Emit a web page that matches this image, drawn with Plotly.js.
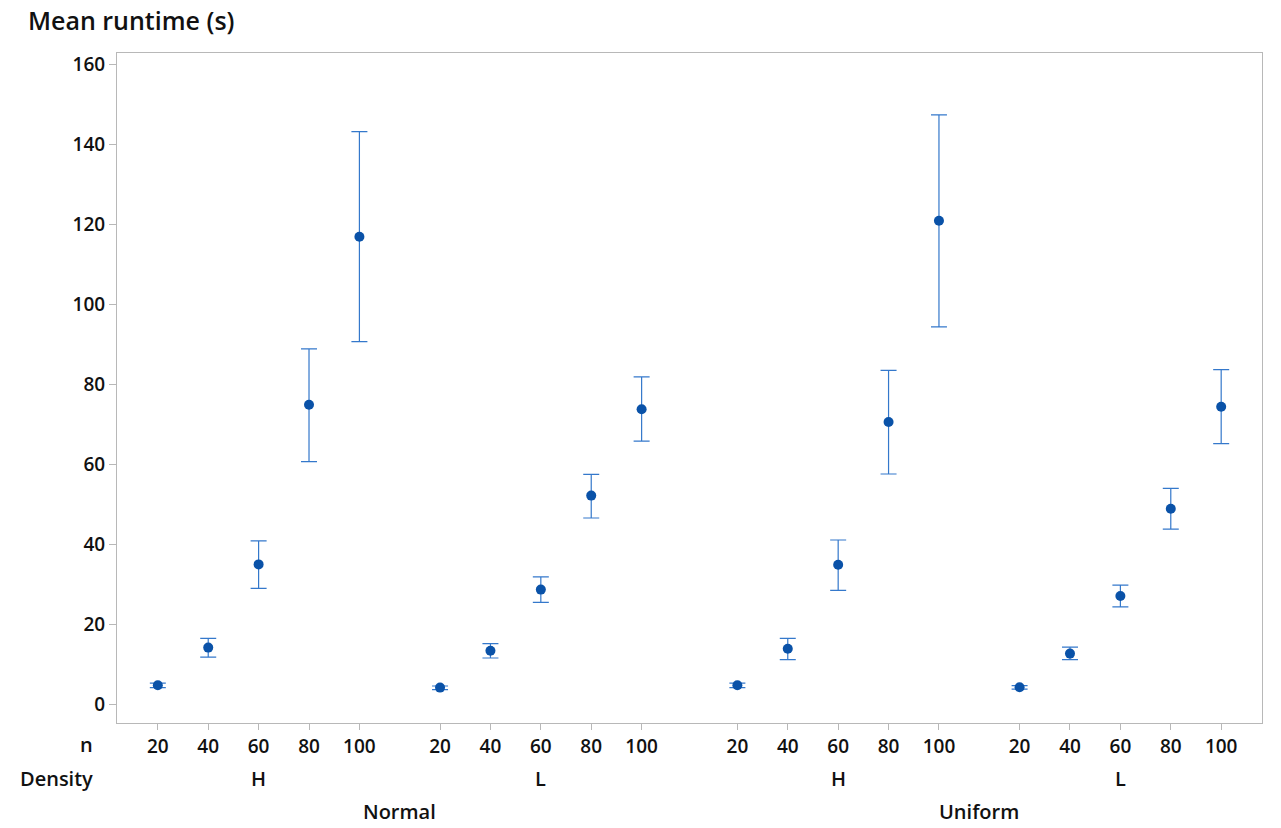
<!DOCTYPE html>
<html>
<head>
<meta charset="utf-8">
<script src="https://cdn.plot.ly/plotly-3.0.1.min.js"></script>
<style>
  html, body { margin: 0; padding: 0; background: #fff; }
  #chart { width: 1281px; height: 828px; }
</style>
</head>
<body>
<div id="chart"></div>
<script>
// Interval plot of mean runtime by distribution, density and n
const distributions = ['Normal', 'Uniform'];
const densities = ['H', 'L'];
const nValues = [20, 40, 60, 80, 100];

// Means and 95% CI bounds, ordered Normal-H, Normal-L, Uniform-H, Uniform-L (n = 20..100 each)
const meanRuntime = [
  4.7, 14.1, 34.9, 74.8, 116.8,
  4.1, 13.3, 28.6, 52.1, 73.7,
  4.7, 13.8, 34.8, 70.5, 120.8,
  4.2, 12.6, 27.0, 48.8, 74.3
];
const ciLower = [
  4.1, 11.7, 28.9, 60.6, 90.6,
  3.6, 11.5, 25.4, 46.5, 65.7,
  4.1, 11.1, 28.4, 57.5, 94.3,
  3.7, 11.1, 24.3, 43.7, 65.1
];
const ciUpper = [
  5.2, 16.4, 40.8, 88.8, 143.1,
  4.5, 15.1, 31.8, 57.4, 81.8,
  5.2, 16.4, 41.0, 83.4, 147.3,
  4.6, 14.2, 29.7, 53.9, 83.6
];

// Horizontal layout: unit step between n levels, wider gaps between groups
const DENSITY_GAP = 0.6;
const DIST_GAP = 0.9;
const xPos = [], tickText = [], densityCenters = [], distCenters = [];
let cursor = 0;
distributions.forEach((dist, di) => {
  const distStart = cursor;
  densities.forEach((dens, ki) => {
    const groupStart = cursor;
    nValues.forEach((n) => {
      xPos.push(cursor);
      tickText.push(String(n));
      cursor += 1;
    });
    densityCenters.push({ label: dens, x: (groupStart + cursor - 1) / 2 });
    if (ki < densities.length - 1) cursor += DENSITY_GAP;
  });
  distCenters.push({ label: dist, x: (distStart + cursor - 1) / 2 });
  if (di < distributions.length - 1) cursor += DIST_GAP;
});
const xLast = xPos[xPos.length - 1];

const FONT = 'Open Sans, Noto Sans, sans-serif';
const TXT = '#111111';
const AXIS = '#b8b8b8';
const TICK_FONT = { family: FONT, size: 19, color: TXT, weight: 600 };
const LABEL_FONT = { family: FONT, size: 20, color: TXT, weight: 600 };

const trace = {
  type: 'scatter',
  mode: 'markers',
  x: xPos,
  y: meanRuntime,
  marker: { color: '#0a52a8', size: 10 },
  error_y: {
    type: 'data',
    symmetric: false,
    array: meanRuntime.map((m, i) => ciUpper[i] - m),
    arrayminus: meanRuntime.map((m, i) => m - ciLower[i]),
    color: '#3478cb',
    thickness: 1.2,
    width: 8
  },
  hoverinfo: 'x+y',
  showlegend: false
};

const annotations = [];
const rowLabel = (text, shift) => ({
  text: text, xref: 'paper', yref: 'paper', x: 0, y: 0,
  xanchor: 'right', yanchor: 'middle', xshift: -22, yshift: shift,
  showarrow: false, font: LABEL_FONT
});
annotations.push(rowLabel('n', -21));
annotations.push(rowLabel('Density', -55));
densityCenters.forEach((d) => annotations.push({
  text: d.label, xref: 'x', yref: 'paper', x: d.x, y: 0,
  xanchor: 'center', yanchor: 'middle', yshift: -55, showarrow: false,
  font: LABEL_FONT
}));
distCenters.forEach((d) => annotations.push({
  text: d.label, xref: 'x', yref: 'paper', x: d.x, y: 0,
  xanchor: 'center', yanchor: 'middle', yshift: -88, showarrow: false,
  font: LABEL_FONT
}));

const layout = {
  width: 1281,
  height: 828,
  margin: { l: 117, r: 19, t: 53, b: 105 },
  paper_bgcolor: '#ffffff',
  plot_bgcolor: '#ffffff',
  title: {
    text: 'Mean runtime (s)',
    xref: 'container', yref: 'container',
    x: 28 / 1281, xanchor: 'left',
    y: 1 - 21 / 828, yanchor: 'middle',
    font: { family: FONT, size: 25, color: TXT, weight: 600 }
  },
  xaxis: {
    range: [-0.81, xLast + 0.81],
    tickmode: 'array',
    tickvals: xPos,
    ticktext: tickText,
    ticks: 'outside', ticklen: 6, tickcolor: AXIS, tickwidth: 1,
    showgrid: false, zeroline: false,
    showline: true, linecolor: AXIS, linewidth: 1, mirror: true,
    tickfont: TICK_FONT,
    fixedrange: true
  },
  yaxis: {
    range: [-4.75, 162.75],
    tickmode: 'array',
    tickvals: [0, 20, 40, 60, 80, 100, 120, 140, 160],
    ticks: 'outside', ticklen: 7, tickcolor: AXIS, tickwidth: 1,
    showgrid: false, zeroline: false,
    showline: true, linecolor: AXIS, linewidth: 1, mirror: true,
    tickfont: TICK_FONT,
    fixedrange: true
  },
  annotations: annotations
};

Plotly.newPlot('chart', [trace], layout, { displayModeBar: false, staticPlot: true });
</script>
</body>
</html>
